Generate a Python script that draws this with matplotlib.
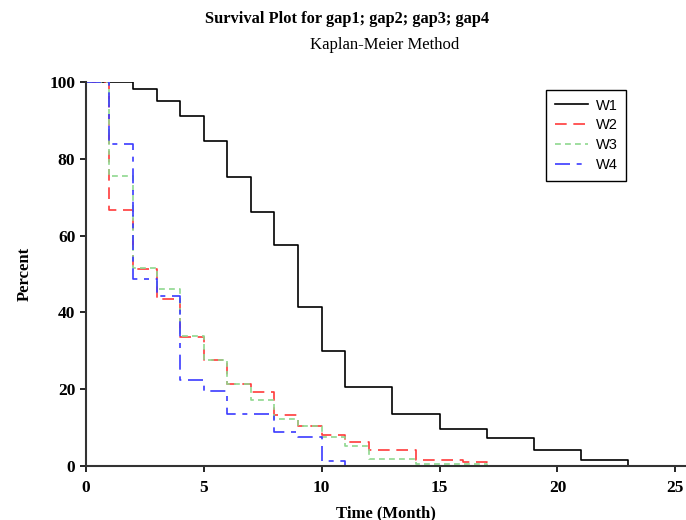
import numpy as np
import matplotlib.pyplot as plt

# Kaplan-Meier estimates (time in months, percent surviving)
t_w1 = [0, 2, 3, 4, 5, 6, 7, 8, 9, 10, 11, 13, 15, 17, 19, 21, 23]
s_w1 = [100, 98.1, 95.1, 91.1, 84.6, 75.3, 66.2, 57.5, 41.3, 30.0, 20.5, 13.5, 9.5, 7.2, 4.2, 1.5, 0]

t_w2 = [0, 1, 2, 3, 4, 5, 6, 7, 8, 9, 10, 11, 12, 14, 16, 17, 23]
s_w2 = [100, 66.7, 51.2, 43.4, 33.5, 27.6, 21.4, 19.2, 13.3, 10.5, 8.1, 6.2, 4.2, 1.6, 0.9, 0, 0]

t_w3 = [0, 1, 2, 3, 4, 5, 6, 7, 8, 9, 10, 11, 12, 14, 17, 23]
s_w3 = [100, 75.5, 51.7, 46.0, 33.8, 27.6, 21.4, 17.2, 12.2, 10.3, 7.5, 5.3, 1.8, 0.4, 0, 0]

t_w4 = [0, 1, 2, 3, 4, 5, 6, 8, 9, 10, 11, 23]
s_w4 = [100, 83.9, 48.7, 44.3, 22.4, 19.4, 13.5, 8.8, 7.5, 1.4, 0, 0]

serif = ['Liberation Serif', 'DejaVu Serif']

fig = plt.figure(figsize=(6.86, 5.2), dpi=100)
ax = fig.add_axes([0.125, 0.104, 0.875, 0.738])

ax.step(t_w1, s_w1, where='post', color='black', lw=1.2, label='W1')
ax.step(t_w2, s_w2, where='post', color='#ff3b3b', lw=1.2, dashes=(7, 4), label='W2')
ax.step(t_w3, s_w3, where='post', color='#8fd88f', lw=1.2, dashes=(3.5, 2.5), label='W3')
ax.step(t_w4, s_w4, where='post', color='#3b3bff', lw=1.2, dashes=(9, 4, 3, 4), label='W4')

ax.set_xlim(0, 25.45)
ax.set_ylim(0, 100)
ax.set_xticks([0, 5, 10, 15, 20, 25])
ax.set_yticks([0, 20, 40, 60, 80, 100])
for side in ['top', 'right']:
    ax.spines[side].set_visible(False)
for side in ['left', 'bottom']:
    ax.spines[side].set_linewidth(1.5)
    ax.spines[side].set_color('#333333')
ax.tick_params(direction='out', length=4, width=1.2, labelsize=12.5)
ax.tick_params(axis='x', pad=6)
for lab in ax.get_xticklabels() + ax.get_yticklabels():
    lab.set_family(serif)
    lab.set_fontweight('bold')

ax.set_xlabel('Time (Month)', family=serif, fontweight='bold', fontsize=12, labelpad=7)
ax.set_ylabel('Percent', family=serif, fontweight='bold', fontsize=12, labelpad=12)

fig.text(0.506, 0.964, 'Survival Plot for gap1; gap2; gap3; gap4', ha='center', va='center',
         family=serif, fontweight='bold', fontsize=11.8)
fig.text(0.561, 0.913, 'Kaplan-Meier Method', ha='center', va='center',
         family=serif, fontsize=12)

leg = ax.legend(loc='upper left', bbox_to_anchor=(0.767, 0.98), fancybox=False,
                edgecolor='black', framealpha=1, handlelength=2.3, handletextpad=0.5,
                borderpad=0.6, labelspacing=0.4, borderaxespad=0,
                prop={'family': ['Liberation Sans'], 'size': 10.5})
leg.get_frame().set_linewidth(1.0)

fig.savefig('out.png')
